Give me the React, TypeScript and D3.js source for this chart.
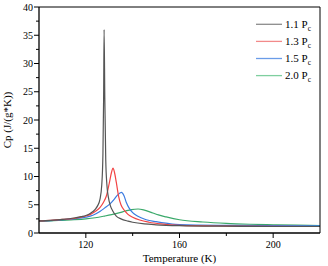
import React from "react";
import * as d3 from "d3";

const seriesNames = ["1.1", "1.3", "1.5", "2.0"];
const seriesColors = ["#555555", "#f24444", "#3b7be0", "#3aa96a"];
const legendColors = ["#8c8c8c", "#f28a8a", "#6a9ce8", "#7fcf9f"];

const temps11 = [100, 105, 110, 115, 118, 120, 122, 124, 125, 126, 126.8, 127.3, 127.6, 127.8, 128.1, 128.5, 129, 129.6, 130.5, 131.5, 133, 135, 138, 140, 145, 150, 160, 180, 200, 220];
const cp11 = [2.15, 2.25, 2.4, 2.65, 2.9, 3.1, 3.5, 4.2, 4.8, 5.9, 8.5, 14, 24, 36, 24, 13, 8.5, 6.4, 4.8, 3.9, 3.0, 2.5, 2.1, 1.9, 1.6, 1.45, 1.3, 1.2, 1.15, 1.15];

const temps13 = [100, 105, 110, 115, 118, 120, 122, 124, 126, 127.5, 128.8, 130, 131, 131.6, 132.2, 133, 134, 135, 136.5, 138, 140, 143, 147, 152, 160, 180, 200, 220];
const cp13 = [2.15, 2.25, 2.4, 2.6, 2.8, 3.0, 3.3, 3.8, 4.5, 5.4, 6.6, 8.8, 10.8, 11.5, 10.8, 9.0, 6.5, 5.0, 4.0, 3.3, 2.8, 2.3, 1.9, 1.6, 1.35, 1.22, 1.17, 1.15];

const temps15 = [100, 105, 110, 115, 120, 123, 126, 128, 130.2, 132, 133.5, 135.2, 136.3, 137.3, 138.5, 140, 142, 145.8, 150, 155, 160, 180, 200, 220];
const cp15 = [2.15, 2.2, 2.35, 2.5, 2.8, 3.15, 3.8, 4.4, 5.1, 5.9, 6.7, 7.2, 6.6, 5.4, 4.4, 3.6, 3.0, 2.35, 2.0, 1.7, 1.5, 1.35, 1.3, 1.28];

const temps20 = [100, 105, 110, 115, 120, 124, 128, 131, 134.5, 137, 139.5, 142.3, 145, 148.6, 151, 154.3, 160, 170, 180, 190, 200, 210, 220];
const cp20 = [2.1, 2.15, 2.25, 2.35, 2.5, 2.7, 3.0, 3.25, 3.6, 3.9, 4.15, 4.25, 4.05, 3.55, 3.2, 2.85, 2.35, 1.95, 1.7, 1.55, 1.45, 1.38, 1.32];

const allTemps = [temps11, temps13, temps15, temps20];
const allCp = [cp11, cp13, cp15, cp20];

const xTicks = [120, 160, 200];
const xMinor = [140, 180];
const yTicks = [0, 5, 10, 15, 20, 25, 30, 35, 40];
const yMinor = [2.5, 7.5, 12.5, 17.5, 22.5, 27.5, 32.5, 37.5];

const W = 328, H = 266;
const L = 39, R = 320, T = 7, B = 233;
const font = "'Liberation Serif', 'Times New Roman', serif";

export default function App() {
  const x = d3.scaleLinear().domain([100, 220]).range([L, R]);
  const y = d3.scaleLinear().domain([0, 40]).range([B, T]);
  const line = d3
    .line<[number, number]>()
    .x((d) => x(d[0]))
    .y((d) => y(d[1]))
    .curve(d3.curveMonotoneX);

  // draw order: green, blue, red, gray (gray on top)
  const order = [3, 2, 1, 0];

  return (
    <div style={{ position: "fixed", left: 0, top: 0 }}>
      <svg width={W} height={H} style={{ display: "block", background: "#fff" }}>
        <defs>
          <clipPath id="plotclip">
            <rect x={L} y={T} width={R - L} height={B - T} />
          </clipPath>
        </defs>
        <g clipPath="url(#plotclip)">
          {order.map((i) => {
            const pts = allTemps[i].map((t, j) => [t, allCp[i][j]] as [number, number]);
            return (
              <path
                key={i}
                d={line(pts) || ""}
                fill="none"
                stroke={seriesColors[i]}
                strokeWidth={1.2}
              />
            );
          })}
        </g>
        {/* frame */}
        <line x1={L} y1={T} x2={R} y2={T} stroke="#000" strokeWidth={1} />
        <line x1={R} y1={T} x2={R} y2={B} stroke="#000" strokeWidth={1} />
        <line x1={L} y1={B} x2={R} y2={B} stroke="#000" strokeWidth={1.3} />
        <line x1={L} y1={T} x2={L} y2={B} stroke="#000" strokeWidth={1.3} />
        {/* x ticks */}
        {xTicks.map((t) => (
          <g key={t}>
            <line x1={x(t)} x2={x(t)} y1={B} y2={B + 5} stroke="#000" strokeWidth={1} />
            <text x={x(t)} y={B + 15} fontSize={10} fontFamily={font} textAnchor="middle">
              {t}
            </text>
          </g>
        ))}
        {xMinor.map((t) => (
          <line key={t} x1={x(t)} x2={x(t)} y1={B} y2={B + 3} stroke="#000" strokeWidth={1} />
        ))}
        {/* y ticks */}
        {yTicks.map((t) => (
          <g key={t}>
            <line x1={L - 5} x2={L} y1={y(t)} y2={y(t)} stroke="#000" strokeWidth={1} />
            <text x={L - 6} y={y(t) + 3.5} fontSize={10} fontFamily={font} textAnchor="end">
              {t}
            </text>
          </g>
        ))}
        {yMinor.map((t) => (
          <line key={t} x1={L - 3} x2={L} y1={y(t)} y2={y(t)} stroke="#000" strokeWidth={1} />
        ))}
        {/* axis titles */}
        <text x={(L + R) / 2} y={262} fontSize={11} fontFamily={font} textAnchor="middle">
          Temperature (K)
        </text>
        <text
          transform={`translate(11, ${(T + B) / 2}) rotate(-90)`}
          fontSize={11}
          fontFamily={font}
          textAnchor="middle"
        >
          Cp (J/(g*K))
        </text>
        {/* legend */}
        {seriesNames.map((n, i) => {
          const ly = 24.3 + i * 17.1;
          return (
            <g key={n}>
              <line x1={256} x2={282} y1={ly} y2={ly} stroke={legendColors[i]} strokeWidth={1.3} />
              <text x={285} y={ly + 3.8} fontSize={11} fontFamily={font}>
                {n} P
                <tspan fontSize={7.5} dy={2.5}>
                  c
                </tspan>
              </text>
            </g>
          );
        })}
      </svg>
    </div>
  );
}
